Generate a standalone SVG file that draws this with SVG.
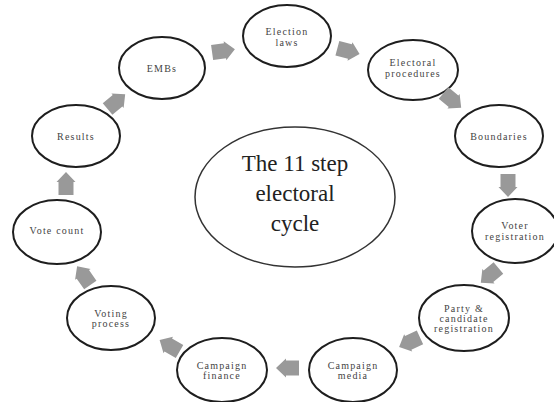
<svg xmlns="http://www.w3.org/2000/svg" width="554" height="402" viewBox="0 0 554 402">
<defs>
<style>
.n ellipse{fill:#fff;stroke:#1e1e1e;stroke-width:2}
.n text{font-family:"Liberation Serif",serif;font-size:10px;fill:#444;text-anchor:middle;letter-spacing:1.2px}
.c text{font-family:"Liberation Serif",serif;font-size:23px;fill:#222;text-anchor:middle}
.a{fill:#999}
</style>
<path id="ar" d="M-11,-7.5 L2,-7.5 L2,-9.5 L12,0 L2,9.5 L2,7.5 L-11,7.5 Z"/>
</defs>
<rect width="554" height="402" fill="#fff"/>
<g id="center" class="c">
<ellipse cx="295" cy="197" rx="100" ry="70" fill="#fff" stroke="#333" stroke-width="1.5"/>
<text x="295" y="171">The 11 step</text>
<text x="295" y="201">electoral</text>
<text x="295" y="231">cycle</text>
</g>
<g id="election-laws" class="n"><ellipse cx="287" cy="36" rx="44" ry="31"/><text x="287" y="35">Election</text><text x="287" y="46">laws</text></g>
<g id="electoral-procedures" class="n"><ellipse cx="413" cy="70" rx="45" ry="30"/><text x="413" y="66">Electoral</text><text x="413" y="77">procedures</text></g>
<g id="boundaries" class="n"><ellipse cx="499" cy="136" rx="44" ry="31"/><text x="499" y="140">Boundaries</text></g>
<g id="voter-registration" class="n"><ellipse cx="515" cy="231" rx="43" ry="32"/><text x="515" y="229">Voter</text><text x="515" y="240">registration</text></g>
<g id="party-registration" class="n"><ellipse cx="464" cy="318" rx="45" ry="33"/><text x="464" y="312">Party &amp;</text><text x="464" y="322">candidate</text><text x="464" y="332">registration</text></g>
<g id="campaign-media" class="n"><ellipse cx="353" cy="370" rx="44" ry="32"/><text x="353" y="369">Campaign</text><text x="353" y="379">media</text></g>
<g id="campaign-finance" class="n"><ellipse cx="222" cy="370" rx="45" ry="32"/><text x="222" y="369">Campaign</text><text x="222" y="379">finance</text></g>
<g id="voting-process" class="n"><ellipse cx="111" cy="318" rx="44" ry="32"/><text x="111" y="317">Voting</text><text x="111" y="327">process</text></g>
<g id="vote-count" class="n"><ellipse cx="57" cy="232" rx="44" ry="32"/><text x="57" y="234">Vote count</text></g>
<g id="results" class="n"><ellipse cx="76" cy="136" rx="44" ry="31"/><text x="76" y="140">Results</text></g>
<g id="embs" class="n"><ellipse cx="162" cy="68" rx="43" ry="31"/><text x="162" y="72">EMBs</text></g>
<g id="connectors" class="a">
<use href="#ar" transform="translate(223,51) rotate(-8)"/>
<use href="#ar" transform="translate(348,51) rotate(15)"/>
<use href="#ar" transform="translate(452,100) rotate(40)"/>
<use href="#ar" transform="translate(508,185) rotate(90)"/>
<use href="#ar" transform="translate(490,275) rotate(140)"/>
<use href="#ar" transform="translate(410,342) rotate(155)"/>
<use href="#ar" transform="translate(288,368) rotate(180)"/>
<use href="#ar" transform="translate(170,346) rotate(-150)"/>
<use href="#ar" transform="translate(84,276) rotate(-125)"/>
<use href="#ar" transform="translate(66,184) rotate(-90)"/>
<use href="#ar" transform="translate(116,102) rotate(-40)"/>
</g>
</svg>
